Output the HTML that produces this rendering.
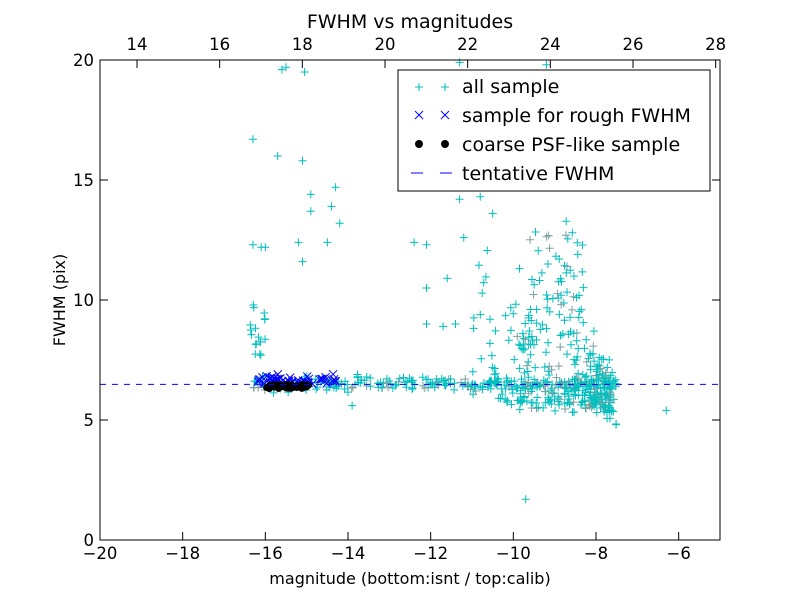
<!DOCTYPE html>
<html><head><meta charset="utf-8">
<style>
html,body{margin:0;padding:0;background:#fff;}
svg{display:block;font-family:"DejaVu Sans","Liberation Sans",sans-serif;}
</style></head>
<body>
<svg id="s" width="800" height="600" xmlns="http://www.w3.org/2000/svg">
<rect x="0" y="0" width="800" height="600" fill="#fff"/>
<g id="pts"></g>
<line x1="100" y1="384.4" x2="720" y2="384.4" stroke="#0000ff" stroke-width="1" stroke-dasharray="6,6"/>
<rect x="100" y="60" width="620" height="480" fill="none" stroke="#000" stroke-width="1"/>
<g id="ticks" stroke="#000" stroke-width="1"></g>
<g id="labels" font-size="16.5" fill="#000"></g>
<text x="410" y="28" font-size="19" text-anchor="middle">FWHM vs magnitudes</text>
<text x="410" y="584" font-size="16" text-anchor="middle">magnitude (bottom:isnt / top:calib)</text>
<text transform="translate(65,300) rotate(-90)" font-size="16" text-anchor="middle">FWHM (pix)</text>
<rect x="398" y="70" width="312" height="121" fill="#fff" stroke="#000" stroke-width="1"/>
<g font-size="19">
<g stroke="#00bfbf" stroke-width="1">
<line x1="415" y1="87" x2="423" y2="87"/><line x1="419" y1="83" x2="419" y2="91"/>
<line x1="441" y1="87" x2="449" y2="87"/><line x1="445" y1="83" x2="445" y2="91"/>
</g>
<text x="462" y="93">all sample</text>
<g stroke="#0000ff" stroke-width="1">
<line x1="415" y1="111" x2="423" y2="119"/><line x1="415" y1="119" x2="423" y2="111"/>
<line x1="441" y1="111" x2="449" y2="119"/><line x1="441" y1="119" x2="449" y2="111"/>
</g>
<text x="462" y="122">sample for rough FWHM</text>
<circle cx="419" cy="144" r="4" fill="#000"/><circle cx="445" cy="144" r="4" fill="#000"/>
<text x="462" y="151">coarse PSF-like sample</text>
<line x1="411" y1="173" x2="423" y2="173" stroke="#0000ff"/>
<line x1="440" y1="173" x2="452" y2="173" stroke="#0000ff"/>
<text x="462" y="180">tentative FWHM</text>
</g>
</svg>
<script>
(function(){
function X(v){return 100+(v+20)*620/15;}
function Y(v){return 540-v*24;}
var seed=12345;function r(){seed=(seed*1103515245+12345)%2147483648;return seed/2147483648;}
function n(){return (r()+r()+r()-1.5)/0.5*0.5;}
var g=document.getElementById('pts'),h='';
function plus(x,y,c){var px=X(x),py=Y(y);if(py<60||py>540)return;h+='<path d="M'+(px-4)+' '+py+'h8M'+px+' '+(py-4)+'v8" stroke="'+c+'" fill="none"/>';}
function cross(x,y){var px=X(x),py=Y(y);h+='<path d="M'+(px-4)+' '+(py-4)+'l8 8M'+(px-4)+' '+(py+4)+'l8 -8" stroke="#0000ff" fill="none"/>';}
var i,x;
for(i=0;i<260;i++){x=-16.3+r()*8.8;plus(x,6.5+n()*0.3,r()<0.2?'#7f9f9f':'#00bfbf');}
for(i=0;i<18;i++){plus(-16.4+r()*0.4,7.5+r()*2.3,'#00bfbf');}
var sp=[[-16.3,16.7],[-15.7,16],[-15.6,19.6],[-15.5,19.7],[-15.05,19.5],[-15.1,15.8],[-14.9,14.4],[-14.9,13.7],[-14.4,13.9],[-14.3,14.7],[-14.2,13.2],[-16.3,12.3],[-16.1,12.2],[-16,12.2],[-15.2,12.4],[-15.1,11.6],[-14.5,12.4],[-13.9,5.6],[-9.7,1.7],[-6.3,5.4],[-11.3,19.9],[-9.2,19.8],[-12.4,12.4],[-12.1,12.3],[-11.3,14.2],[-11.2,12.6],[-10.8,14.3],[-10.5,13.6],[-12.1,10.5],[-11.6,10.9],[-12.1,9],[-11.7,8.9],[-11.4,9]];
sp.forEach(function(p){plus(p[0],p[1],'#00bfbf');});
for(i=0;i<320;i++){x=-10.2+Math.pow(r(),0.7)*2.6;var top=x<-9.6?5:(x<-8.3?7.5:(x<-8?3:2));var y=5.6+Math.pow(r(),2.2)*top+(r()-0.5)*0.6;plus(x,y,r()<0.15?'#7f9f9f':'#00bfbf');}
for(i=0;i<40;i++){x=-11+r()*1.2;plus(x,5.8+Math.pow(r(),2.5)*7,'#00bfbf');}
for(i=0;i<20;i++){plus(-8+r()*0.5,4.8+r()*2,'#00bfbf');}
for(i=0;i<55;i++){x=-16.2+r()*1.95;cross(x,6.5+Math.abs(n())*0.4);}
for(i=0;i<45;i++){x=-16+r()*1.1;h+='<circle cx="'+X(x)+'" cy="'+Y(6.4+n()*0.1)+'" r="3.5" fill="#000"/>';}
g.innerHTML=h;
var t='',l='';
for(var v=-20;v<=-6;v+=2){var px=X(v);t+='<line x1="'+px+'" y1="540" x2="'+px+'" y2="532"/>';l+='<text x="'+px+'" y="559" text-anchor="middle">'+(v<0?'\u2212'+(-v):v)+'</text>';}
for(var v=0;v<=20;v+=5){var py=Y(v);t+='<line x1="100" y1="'+py+'" x2="108" y2="'+py+'"/><line x1="720" y1="'+py+'" x2="712" y2="'+py+'"/>';l+='<text x="94" y="'+(py+6)+'" text-anchor="end">'+v+'</text>';}
for(var v=14;v<=28;v+=2){var px=X(v-33.105);t+='<line x1="'+px+'" y1="60" x2="'+px+'" y2="68"/>';l+='<text x="'+px+'" y="50" text-anchor="middle">'+v+'</text>';}
document.getElementById('ticks').innerHTML=t;document.getElementById('labels').innerHTML=l;
})();
</script>
</body></html>
